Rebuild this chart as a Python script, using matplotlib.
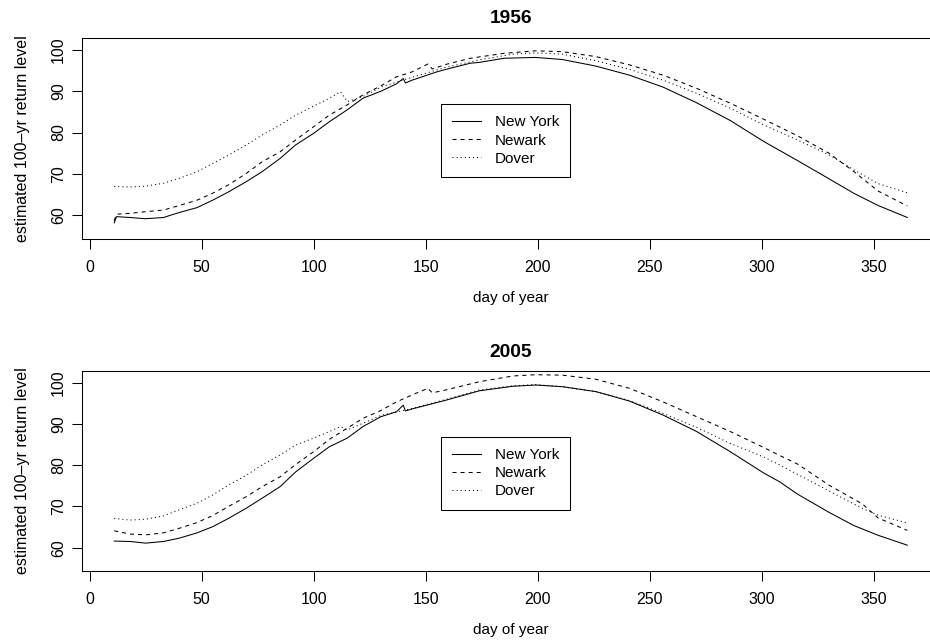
import matplotlib
matplotlib.use("Agg")
import matplotlib.pyplot as plt

plt.rcParams['font.family'] = ['Liberation Sans', 'DejaVu Sans']
plt.rcParams['lines.scale_dashes'] = False

# --- 1956 : estimated 100-yr return level by day of year
ny56_day = [11, 12, 18, 25, 33, 40, 48, 55, 62, 70, 77, 85, 92, 100, 107, 115, 122, 130, 137, 140,
            141, 144, 155, 159, 170, 174, 185, 199, 211, 226, 241, 256, 271, 286, 301, 316, 330, 341, 352, 365]
ny56 = [58.1, 59.6, 59.4, 59.1, 59.4, 60.6, 61.8, 63.6, 65.6, 68.1, 70.5, 73.7, 77.0, 79.8, 82.6, 85.5, 88.3, 90.0, 91.8, 93.1,
        92.0, 92.7, 94.7, 95.3, 96.8, 97.0, 98.0, 98.2, 97.7, 96.1, 93.9, 91.0, 87.2, 82.9, 77.8, 73.2, 68.8, 65.3, 62.3, 59.4]

nwk56_day = [11, 12, 18, 25, 33, 40, 48, 55, 62, 70, 77, 85, 92, 100, 107, 115, 122, 130, 137, 144,
             151, 153, 159, 170, 185, 199, 211, 226, 241, 256, 271, 286, 301, 316, 330, 341, 352, 365]
nwk56 = [58.6, 60.2, 60.4, 60.8, 61.2, 62.3, 63.6, 65.3, 67.3, 70.1, 72.9, 75.3, 78.2, 81.4, 84.2, 86.7, 89.1, 91.3, 93.5, 94.7,
         96.6, 95.4, 96.5, 98.0, 99.2, 99.8, 99.6, 98.4, 96.4, 93.9, 90.7, 87.1, 83.2, 79.2, 75.0, 70.6, 65.8, 62.2]

dov56_day = [11, 18, 25, 33, 40, 48, 55, 62, 70, 77, 85, 92, 100, 107, 112, 115, 122, 130, 144, 159,
             174, 189, 199, 211, 226, 241, 256, 271, 286, 301, 316, 330, 341, 352, 365]
dov56 = [66.9, 66.8, 67.0, 67.7, 68.9, 70.5, 72.5, 74.5, 77.0, 79.4, 81.8, 84.2, 86.4, 88.3, 89.9, 87.5, 88.7, 91.0, 93.4, 95.8,
         97.6, 99.0, 99.3, 99.0, 97.4, 95.3, 92.7, 89.5, 85.9, 81.8, 78.2, 74.6, 71.0, 67.6, 65.4]

# --- 2005
ny05_day = [11, 18, 25, 33, 40, 48, 55, 62, 70, 77, 85, 92, 100, 107, 115, 122, 130, 137, 140, 141,
            144, 159, 174, 189, 199, 211, 226, 241, 256, 271, 286, 301, 308, 316, 330, 341, 352, 365]
ny05 = [61.6, 61.5, 61.1, 61.5, 62.3, 63.6, 65.1, 67.1, 69.6, 72.0, 74.8, 78.4, 81.7, 84.5, 86.6, 89.4, 91.8, 93.0, 94.6, 93.2,
        93.7, 95.8, 98.1, 99.2, 99.5, 99.1, 97.9, 95.6, 92.2, 88.2, 83.3, 78.1, 76.0, 73.0, 68.6, 65.4, 63.0, 60.6]

nwk05_day = [11, 18, 25, 33, 40, 48, 55, 62, 70, 77, 85, 92, 100, 107, 115, 122, 130, 137, 144, 151,
             153, 159, 174, 189, 199, 211, 226, 241, 256, 271, 286, 301, 308, 316, 330, 345, 352, 365]
nwk05 = [64.1, 63.3, 63.1, 63.6, 64.7, 66.1, 67.8, 70.0, 72.4, 74.8, 77.2, 80.2, 83.3, 86.3, 89.0, 91.4, 93.3, 95.4, 97.1, 98.7,
         97.6, 98.3, 100.3, 101.7, 102.0, 101.9, 100.9, 98.7, 95.4, 91.8, 88.2, 84.3, 82.4, 80.3, 75.2, 70.6, 67.2, 64.2]

dov05_day = [11, 18, 25, 33, 40, 48, 55, 62, 70, 77, 85, 92, 100, 107, 112, 115, 122, 130, 144, 159,
             174, 189, 199, 211, 226, 241, 256, 271, 286, 301, 308, 316, 330, 345, 352, 365]
dov05 = [67.1, 66.7, 66.9, 67.7, 69.2, 70.8, 72.8, 75.2, 77.6, 80.1, 82.5, 84.9, 86.6, 88.2, 89.4, 88.6, 90.2, 92.1, 93.8, 96.0,
         98.3, 99.3, 99.6, 99.1, 97.9, 95.7, 92.6, 89.2, 85.3, 82.0, 80.1, 77.8, 73.8, 69.5, 67.9, 66.0]

names = ["New York", "Newark", "Dover"]
styles = ["-", (0, (2.9, 2.9)), (0, (0.75, 2.2))]

fig = plt.figure(figsize=(9.3, 6.42), dpi=100)
ax1 = fig.add_axes([0.0887, 0.6277, 0.921, 0.3131])
ax2 = fig.add_axes([0.0887, 0.1111, 0.921, 0.3106])

panels = [
    (ax1, "1956", [(ny56_day, ny56), (nwk56_day, nwk56), (dov56_day, dov56)], (54.18, 102.91)),
    (ax2, "2005", [(ny05_day, ny05), (nwk05_day, nwk05), (dov05_day, dov05)], (54.41, 102.84)),
]

for ax, year, series, ylim in panels:
    for (d, v), name, ls in zip(series, names, styles):
        ax.plot(d, v, color="black", lw=0.75, linestyle=ls, label=name)
    ax.set_xlim(-3.16, 379.16)
    ax.set_ylim(*ylim)
    ax.set_xticks([0, 50, 100, 150, 200, 250, 300, 350])
    ax.set_yticks([60, 70, 80, 90, 100])
    ax.spines['right'].set_visible(False)
    for s in ['left', 'top', 'bottom']:
        ax.spines[s].set_linewidth(0.75)
    ax.tick_params(direction="out", length=7, width=0.75, labelsize=11.5)
    ax.tick_params(axis="x", pad=8)
    ax.tick_params(axis="y", pad=5, labelrotation=90)
    for lab in ax.get_yticklabels():
        lab.set_va("center")
    ax.set_xlabel("day of year", fontsize=11)
    ax.xaxis.set_label_coords(0.5, -0.26)
    ax.set_ylabel("estimated 100\u2013yr return level", fontsize=11.5)
    ax.yaxis.set_label_coords(-0.0613, 0.5)
    ax.set_title(year, fontsize=13.8, fontweight="bold", y=1.095, va="center", pad=0)
    leg = ax.legend(loc="upper left", bbox_to_anchor=(0.4186, 0.672), borderaxespad=0,
                    fontsize=11, fancybox=False, framealpha=1, edgecolor="black",
                    handlelength=1.85, handletextpad=0.9, labelspacing=0.27, borderpad=0.75)
    leg.get_frame().set_linewidth(0.75)

fig.savefig("out.png", dpi=100)
